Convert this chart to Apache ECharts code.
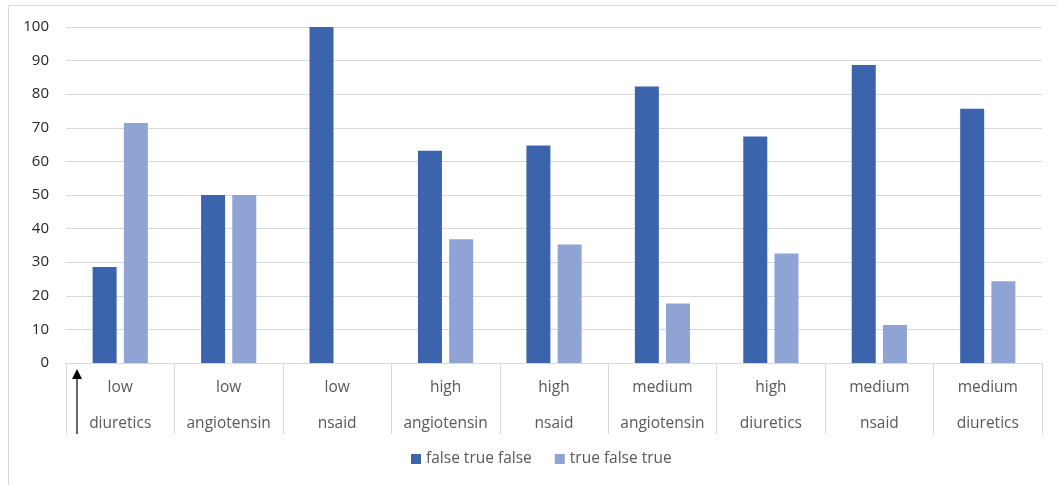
<!DOCTYPE html>
<html>
<head>
<meta charset="utf-8">
<script src="https://cdn.jsdelivr.net/npm/echarts@6/dist/echarts.min.js"></script>
<style>
  html, body { margin: 0; padding: 0; background: #fff; }
  #chart { width: 1057px; height: 485px; }
</style>
</head>
<body>
<div id="chart"></div>
<script>
// Two-level category labels: dose level over drug class
const levels = ['low', 'low', 'low', 'high', 'high', 'medium', 'high', 'medium', 'medium'];
const drugs = ['diuretics', 'angiotensin', 'nsaid', 'angiotensin', 'nsaid', 'angiotensin', 'diuretics', 'nsaid', 'diuretics'];

const seriesNames = ['false true false', 'true false true'];
const falseTrueFalse = [28.6, 50, 100, 63.2, 64.7, 82.3, 67.4, 88.7, 75.7];
const trueFalseTrue = [71.4, 50, 0, 36.8, 35.3, 17.7, 32.6, 11.3, 24.3];

const yTicks = { min: 0, max: 100, interval: 10 };

const categories = levels.map((lv, i) => lv + '\n' + drugs[i]);

const gridBox = { left: 66, right: 15, top: 27, bottom: 122 };
const tickDrop = 71;
const font = 'Open Sans, Liberation Sans, sans-serif';

const chart = echarts.init(document.getElementById('chart'));

const plotBottom = 485 - gridBox.bottom;
const arrowX = gridBox.left + 11;

chart.setOption({
  animation: false,
  backgroundColor: '#ffffff',
  textStyle: { fontFamily: font },
  grid: gridBox,
  legend: {
    bottom: 13,
    left: 406,
    itemWidth: 10,
    itemHeight: 10,
    itemGap: 23,
    icon: 'rect',
    textStyle: { color: '#595959', fontSize: 15.5, fontFamily: font },
    data: seriesNames
  },
  xAxis: {
    type: 'category',
    data: categories,
    axisLine: { lineStyle: { color: '#d9d9d9', width: 1 } },
    axisTick: { show: true, length: tickDrop, interval: 0, lineStyle: { color: '#d9d9d9' } },
    axisLabel: {
      interval: 0,
      margin: 7,
      color: '#595959',
      fontSize: 15.5,
      lineHeight: 36,
      fontFamily: font
    }
  },
  yAxis: {
    type: 'value',
    min: yTicks.min,
    max: yTicks.max,
    interval: yTicks.interval,
    axisLine: { show: false },
    axisTick: { show: false },
    splitLine: { lineStyle: { color: '#d9d9d9', width: 1 } },
    axisLabel: { color: '#262626', fontSize: 15, margin: 17, fontFamily: font }
  },
  series: [
    {
      name: seriesNames[0],
      type: 'bar',
      data: falseTrueFalse,
      barWidth: 24,
      barGap: '30%',
      itemStyle: { color: '#3c64ad' }
    },
    {
      name: seriesNames[1],
      type: 'bar',
      data: trueFalseTrue,
      barWidth: 24,
      itemStyle: { color: '#8fa4d5' }
    }
  ],
  graphic: [
    {
      type: 'rect',
      shape: { x: 8.5, y: 5.5, width: 1060, height: 490 },
      style: { fill: null, stroke: '#d9d9d9', lineWidth: 1 },
      silent: true,
      z: -1
    },
    {
      type: 'line',
      shape: { x1: arrowX, y1: plotBottom + tickDrop, x2: arrowX, y2: plotBottom + 14 },
      style: { stroke: '#000', lineWidth: 1.2 },
      silent: true
    },
    {
      type: 'polygon',
      shape: { points: [[arrowX, plotBottom + 6], [arrowX - 5, plotBottom + 16], [arrowX + 5, plotBottom + 16]] },
      style: { fill: '#000' },
      silent: true
    }
  ]
});
</script>
</body>
</html>
